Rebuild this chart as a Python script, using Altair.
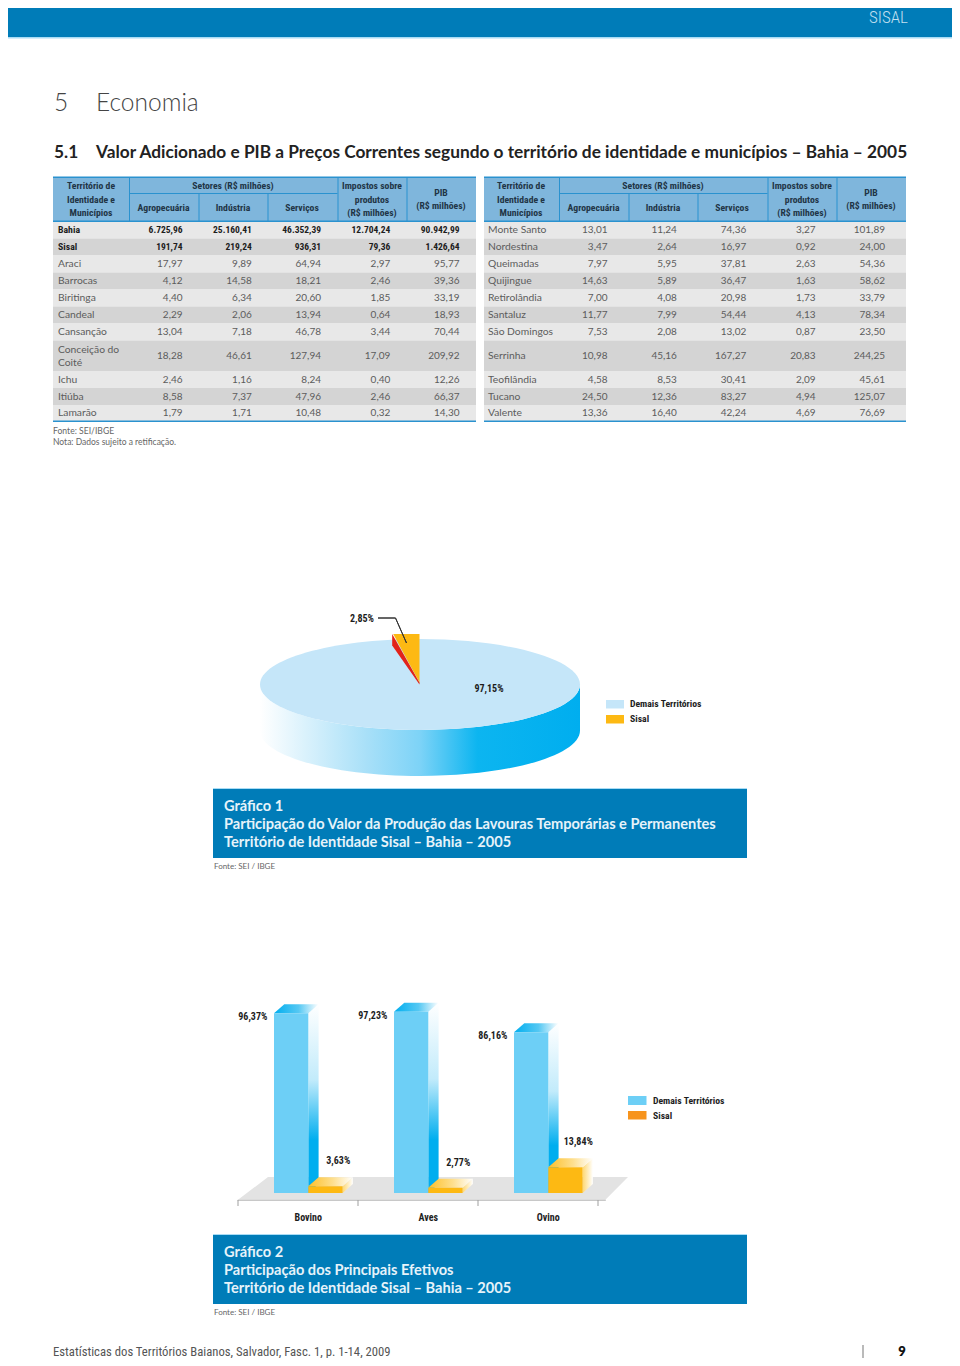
import math
import altair as alt
import pandas as pd

# ---------- data ----------
COLS = ["Agropecuária", "Indústria", "Serviços", "Impostos", "PIB"]
ROW_UNITS = [1, 1, 1, 1, 1, 1, 1, 1.8, 1, 1, 0.95]

L_ROWS = ["Bahia", "Sisal", "Araci", "Barrocas", "Biritinga", "Candeal", "Cansanção",
          "Conceição do\nCoité", "Ichu", "Itiúba", "Lamarão"]
L_AGRO = [6725.96, 191.74, 17.97, 4.12, 4.40, 2.29, 13.04, 18.28, 2.46, 8.58, 1.79]
L_IND = [25160.41, 219.24, 9.89, 14.58, 6.34, 2.06, 7.18, 46.61, 1.16, 7.37, 1.71]
L_SERV = [46352.39, 936.31, 64.94, 18.21, 20.60, 13.94, 46.78, 127.94, 8.24, 47.96, 10.48]
L_IMP = [12704.24, 79.36, 2.97, 2.46, 1.85, 0.64, 3.44, 17.09, 0.40, 2.46, 0.32]
L_PIB = [90942.99, 1426.64, 95.77, 39.36, 33.19, 18.93, 70.44, 209.92, 12.26, 66.37, 14.30]

R_ROWS = ["Monte Santo", "Nordestina", "Queimadas", "Quijingue", "Retirolândia", "Santaluz",
          "São Domingos", "Serrinha", "Teofilândia", "Tucano", "Valente"]
R_AGRO = [13.01, 3.47, 7.97, 14.63, 7.00, 11.77, 7.53, 10.98, 4.58, 24.50, 13.36]
R_IND = [11.24, 2.64, 5.95, 5.89, 4.08, 7.99, 2.08, 45.16, 8.53, 12.36, 16.40]
R_SERV = [74.36, 16.97, 37.81, 36.47, 20.98, 54.44, 13.02, 167.27, 30.41, 83.27, 42.24]
R_IMP = [3.27, 0.92, 2.63, 1.63, 1.73, 4.13, 0.87, 20.83, 2.09, 4.94, 4.69]
R_PIB = [101.89, 24.00, 54.36, 58.62, 33.79, 78.34, 23.50, 244.25, 45.61, 125.07, 76.69]

PIE_SHARES = [97.15, 2.85]
CATS = ["Bovino", "Aves", "Ovino"]
DEMAIS = [96.37, 97.23, 86.16]
SISAL = [3.63, 2.77, 13.84]

# ---------- style ----------
NARROW = "Roboto Condensed, Open Sans Condensed, Noto Sans Condensed, Lato, sans-serif"
BODY = "Lato, Open Sans, sans-serif"
BLUE = "#007cb8"
HEAD = "#7fb6dc"
HLINE = "#2a92cf"
TXT = "#5c5c5c"
DARK = "#1d1d1d"
ONE = alt.Data(values=[{"k": 1}])


def px(x):
    return x - 8


def py(y):
    return y - 8


def box(x0, y0, x1, y1, color):
    return alt.Chart(ONE).mark_rect(color=color).encode(
        x=alt.value(px(x0)), x2=alt.value(px(x1)), y=alt.value(py(y0)), y2=alt.value(py(y1)))


def txt(s, x, y, size=11, font=BODY, color=TXT, weight="normal", align="left"):
    return alt.Chart(alt.Data(values=[{"t": s}])).mark_text(
        font=font, fontSize=size, color=color, fontWeight=weight, align=align, baseline="middle"
    ).encode(text="t:N", x=alt.value(px(x)), y=alt.value(py(y)))


def grad(stops, horizontal=True):
    return alt.Gradient(
        gradient="linear",
        stops=[alt.GradientStop(offset=o, color=c) for o, c in stops],
        x1=0, x2=1 if horizontal else 0, y1=0, y2=0 if horizontal else 1)


def shape(path, fill):
    # a symbol of size 4 draws its path at one pixel per path unit
    return dict(shape=path, size=4, filled=True, fill=fill, opacity=1, strokeWidth=0, stroke="transparent")


def fmt(v):
    return f"{v:,.2f}".replace(",", "#").replace(".", ",").replace("#", ".")


layers = []

# ---------- page furniture ----------
layers += [
    box(0, 0, 952, 37, BLUE),
    box(0, 37, 952, 38.5, "#a9dcf5"),
    txt("SISAL", 869, 18, 17, NARROW, "#c3e0f0", 300),
    txt("5", 54, 103.5, 24.5, BODY, "#444444", 300),
    txt("Economia", 96, 103.5, 24.5, BODY, "#444444", 300),
    txt("5.1", 54, 152.5, 17.3, BODY, "#222222", 700),
    txt("Valor Adicionado e PIB a Preços Correntes segundo o território de identidade e municípios – Bahia – 2005",
        96, 152.5, 17.3, BODY, "#222222", 700),
    txt("Estatísticas dos Territórios Baianos, Salvador, Fasc. 1, p. 1-14, 2009", 53, 1351.5, 12.7, NARROW, "#555555"),
    box(862.5, 1345, 863.5, 1358, "#777777"),
    txt("9", 902, 1351.5, 13, BODY, "#111111", 800, "center"),
]


# ---------- tables ----------
def table(rows, cols_values, x0, x1, label_x, num_range, shift, bold_rows):
    top, recs = 0, []
    for i, (name, h) in enumerate(zip(rows, ROW_UNITS)):
        recs.append({"row": name, "top": top, "bottom": top + h, "mid": top + h / 2,
                     "shade": "#e8e8e8" if i % 2 == 0 else "#d4d4d4"})
        top += h
    df = pd.DataFrame(recs)
    yscale = alt.Scale(domain=[0, 11.75], range=[py(221.5), py(221.5 + 11.75 * 17)])
    out = [alt.Chart(df).mark_rect().encode(
        x=alt.value(px(x0)), x2=alt.value(px(x1)),
        y=alt.Y("top:Q", scale=yscale, axis=None), y2="bottom:Q",
        fill=alt.Fill("shade:N", scale=None))]

    # header block
    out += [box(x0, 177.5, x1, 221, HEAD), box(x0, 176.5, x1, 178, HLINE), box(x0, 220.5, x1, 222, HLINE),
            box(129 + shift, 193, 337.5 + shift, 194, HLINE), box(x0, 420.5, x1, 422, HLINE)]
    for vx, a in [(129, 178), (337.5, 178), (406.5, 178), (198.5, 194), (267.5, 194)]:
        out.append(box(vx + shift, a, vx + 1 + shift, 221, HLINE))
    header = [("Território de", 91, 186), ("Identidade e", 91, 200), ("Municípios", 91, 213),
              ("Setores (R$ milhões)", 233, 186), ("Agropecuária", 163.5, 208), ("Indústria", 233, 208),
              ("Serviços", 302, 208), ("Impostos sobre", 372, 186), ("produtos", 372, 200),
              ("(R$ milhões)", 372, 213), ("PIB", 441, 193), ("(R$ milhões)", 441, 206)]
    for s, hx, hy in header:
        out.append(txt(s, hx + shift, hy, 9.7, NARROW, "#1f3546", "bold", "center"))

    # row labels, wrapped names draw one text per line
    lab = []
    for rec in recs:
        parts = rec["row"].split("\n")
        for j, part in enumerate(parts):
            lab.append({"t": part, "mid": rec["mid"] + (j - (len(parts) - 1) / 2) * 0.76, "b": rec["row"] in bold_rows})
    ldf = pd.DataFrame(lab)
    for flag, f, c, w, sz in [(True, NARROW, DARK, "bold", 9.8), (False, BODY, TXT, "normal", 10.3)]:
        sub = ldf[ldf.b == flag]
        if len(sub):
            out.append(alt.Chart(sub).mark_text(
                align="left", baseline="middle", dy=0.3, font=f, color=c, fontWeight=w, fontSize=sz
            ).encode(x=alt.value(px(label_x)), y=alt.Y("mid:Q", scale=yscale, axis=None), text="t:N"))

    # numbers
    num = []
    for c, vals in zip(COLS, cols_values):
        for rec, v in zip(recs, vals):
            num.append({"col": c, "mid": rec["mid"], "t": fmt(v), "b": rec["row"] in bold_rows})
    ndf = pd.DataFrame(num)
    xscale = alt.Scale(type="point", domain=COLS, range=[px(num_range[0]), px(num_range[1])], padding=0)
    for flag, f, c, w, sz in [(True, NARROW, DARK, "bold", 9.5), (False, BODY, TXT, "normal", 10)]:
        sub = ndf[ndf.b == flag]
        if len(sub):
            out.append(alt.Chart(sub).mark_text(
                align="right", baseline="middle", dy=0.3, font=f, color=c, fontWeight=w, fontSize=sz
            ).encode(x=alt.X("col:N", scale=xscale, axis=None), y=alt.Y("mid:Q", scale=yscale, axis=None), text="t:N"))
    return out


layers += table(L_ROWS, [L_AGRO, L_IND, L_SERV, L_IMP, L_PIB], 53, 476, 58, (182.5, 459.5), 0, {"Bahia", "Sisal"})
layers += table(R_ROWS, [R_AGRO, R_IND, R_SERV, R_IMP, R_PIB], 484, 906, 488, (607.5, 885), 430, set())
layers += [txt("Fonte: SEI/IBGE", 53, 431, 8.6, BODY, "#666666"),
           txt("Nota: Dados sujeito a retificação.", 53, 442, 8.5, BODY, "#666666")]

# ---------- pie ----------
RX, RY, DEPTH = 160, 45.5, 46
theta = 2 * math.pi * PIE_SHARES[1] / 100
wx = RX * math.sin(theta) * 0.94
pie_cx, pie_cy = px(420), py(684.5)
side_path = f"M {-RX} 0 A {RX} {RY} 0 0 0 {RX} 0 L {RX} {DEPTH} A {RX} {RY} 0 0 1 {-RX} {DEPTH} Z"
top_path = f"M {-RX} 0 A {RX} {RY} 0 1 1 {RX} 0 A {RX} {RY} 0 1 1 {-RX} 0 Z"
wedge_path = f"M -0.5 -2 L -0.5 -50.5 L {-wx:.1f} -50.5 Z"
red_path = f"M {-wx-1:.1f} -50.5 L {-wx-1:.1f} -39 L -0.5 0 L -0.5 -2 Z"
pie_side = grad([(0, "#ffffff"), (0.33, "#a9e0f8"), (0.5, "#7dd3f7"), (0.68, "#0cb5f0"), (1, "#00aeef")])
for path, fill in [(side_path, pie_side), (top_path, "#c5e6f9"), (red_path, "#e2231a"), (wedge_path, "#fdb913")]:
    layers.append(alt.Chart(alt.Data(values=[{"share": PIE_SHARES[0]}])).mark_point(**shape(path, fill)).encode(
        x=alt.value(pie_cx), y=alt.value(pie_cy)))
lead = alt.Chart(alt.Data(values=[{"k": 1}])).mark_point(
    shape="M 378 618 L 395.5 618 L 406.5 643 L 395.5 618 Z", size=4, filled=False, stroke="#333333",
    strokeWidth=1, opacity=1, fillOpacity=0).encode(x=alt.value(-8), y=alt.value(-8))
layers += [
    lead,
    txt(fmt(PIE_SHARES[1]) + "%", 362, 618.5, 10, NARROW, DARK, "bold", "center"),
    txt(fmt(PIE_SHARES[0]) + "%", 489, 689, 10, NARROW, DARK, "bold", "center"),
    box(606, 700, 624, 708.5, "#c5e6f9"),
    box(606, 715, 624, 723.5, "#fdb913"),
    txt("Demais Territórios", 630, 704, 9.7, NARROW, DARK, "bold"),
    txt("Sisal", 630, 719, 9.7, NARROW, DARK, "bold"),
]


# ---------- banners ----------
def banner(y0, lines):
    out = [box(213, y0, 747, y0 + 69, BLUE), box(213, y0 - 1, 747, y0, "#a9dcf5")]
    for i, s in enumerate(lines):
        out.append(txt(s, 224, y0 + 18 + 18 * i, 14.6, BODY, "#e6f3fa", "bold"))
    out.append(txt("Fonte: SEI / IBGE", 214, y0 + 78, 8, BODY, "#666666"))
    return out


layers += banner(789, ["Gráfico 1", "Participação do Valor da Produção das Lavouras Temporárias e Permanentes",
                       "Território de Identidade Sisal – Bahia – 2005"])
layers += banner(1235, ["Gráfico 2", "Participação dos Principais Efetivos",
                        "Território de Identidade Sisal – Bahia – 2005"])

# ---------- 3D bars ----------
bars = pd.DataFrame({"cat": CATS, "demais": DEMAIS, "sisal": SISAL})
PX_PER_PCT = 1.865
BASE = 1193
bx = alt.X("cat:N", scale=alt.Scale(type="point", domain=CATS, range=[px(308.3), px(548.3)], padding=0), axis=None)
by = alt.Scale(domain=[0, 100], range=[py(BASE), py(BASE - 100 * PX_PER_PCT)])
W, DX, DY = 34.3, 10.3, 9

# floor
layers += [
    alt.Chart(ONE).mark_point(**shape("M 237.7 1200 L 268 1177 L 628 1177 L 605.7 1199.5 L 605.7 1201 L 237.7 1201 Z", "#e3e3e3")).encode(
        x=alt.value(-8), y=alt.value(-8)),
    box(237.7, 1199.8, 605.7, 1201, "#c8c8c8"),
]
for tx in [237.5, 357.5, 477.5, 597.5]:
    layers.append(box(tx, 1200, tx + 1, 1206, "#a0a0a0"))

side_blue = grad([(0, "#ffffff"), (0.4, "#c2ebfb"), (0.72, "#00aeef"), (1, "#00aeef")], False)
top_blue = grad([(0, "#00aeef"), (0.55, "#55c8f3"), (1, "#ffffff")])
side_or = grad([(0, "#fed873"), (1, "#ffffff")])
top_or = grad([(0, "#fdc02a"), (0.55, "#fedf8e"), (1, "#ffffff")])

for _, r in bars.iterrows():
    one = pd.DataFrame([r])
    h = r.demais * PX_PER_PCT
    sp = f"M 0 0 L {DX} {-DY} L {DX} {h-DY:.1f} L 0 {h:.1f} Z"
    layers.append(alt.Chart(one).mark_point(**shape(sp, side_blue)).encode(x=bx, y=alt.Y("demais:Q", scale=by, axis=None)))
layers.append(alt.Chart(bars).mark_point(**shape(f"M {-W} 0 L {DX-W} {-DY} L {DX} {-DY} L 0 0 Z", top_blue)).encode(
    x=bx, y=alt.Y("demais:Q", scale=by, axis=None)))
layers.append(alt.Chart(bars).mark_bar(width=W, xOffset=-W / 2, color="#6dcff6").encode(
    x=bx, y=alt.Y("demais:Q", scale=by, axis=None)))
for _, r in bars.iterrows():
    one = pd.DataFrame([r])
    h = r.sisal * PX_PER_PCT
    sp = f"M {W} 0 L {W+DX} {-DY} L {W+DX} {h-DY:.1f} L {W} {h:.1f} Z"
    layers.append(alt.Chart(one).mark_point(**shape(sp, side_or)).encode(x=bx, y=alt.Y("sisal:Q", scale=by, axis=None)))
layers.append(alt.Chart(bars).mark_point(**shape(f"M 0 0 L {DX} {-DY} L {W+DX} {-DY} L {W} 0 Z", top_or)).encode(
    x=bx, y=alt.Y("sisal:Q", scale=by, axis=None)))
layers.append(alt.Chart(bars).mark_bar(width=W, xOffset=W / 2, color="#fdb913").encode(
    x=bx, y=alt.Y("sisal:Q", scale=by, axis=None)))

bars["ld"] = [fmt(v) + "%" for v in DEMAIS]
bars["ls"] = [fmt(v) + "%" for v in SISAL]
lab_style = dict(font=NARROW, fontSize=10, fontWeight="bold", color=DARK, baseline="middle", align="center")
layers += [
    alt.Chart(bars).mark_text(dx=-55.5, dy=4, **lab_style).encode(x=bx, y=alt.Y("demais:Q", scale=by, axis=None), text="ld:N"),
    alt.Chart(bars).mark_text(dx=30, dy=-25, **lab_style).encode(x=bx, y=alt.Y("sisal:Q", scale=by, axis=None), text="ls:N"),
    alt.Chart(bars).mark_text(**lab_style).encode(x=bx, y=alt.value(py(1218)), text="cat:N"),
    box(628, 1096, 646.5, 1105, "#6dcff6"),
    box(628, 1111, 646.5, 1119.5, "#f7941d"),
    txt("Demais Territórios", 653, 1101, 9.7, NARROW, DARK, "bold"),
    txt("Sisal", 653, 1115.5, 9.7, NARROW, DARK, "bold"),
]

chart = alt.layer(*layers).resolve_scale(x="independent", y="independent").properties(
    width=944, height=1350, padding=0, autosize=alt.AutoSizeParams(type="none"), background="white"
).configure_view(strokeWidth=0)

chart.save("out.html", embed_options={"renderer": "svg", "actions": False})
